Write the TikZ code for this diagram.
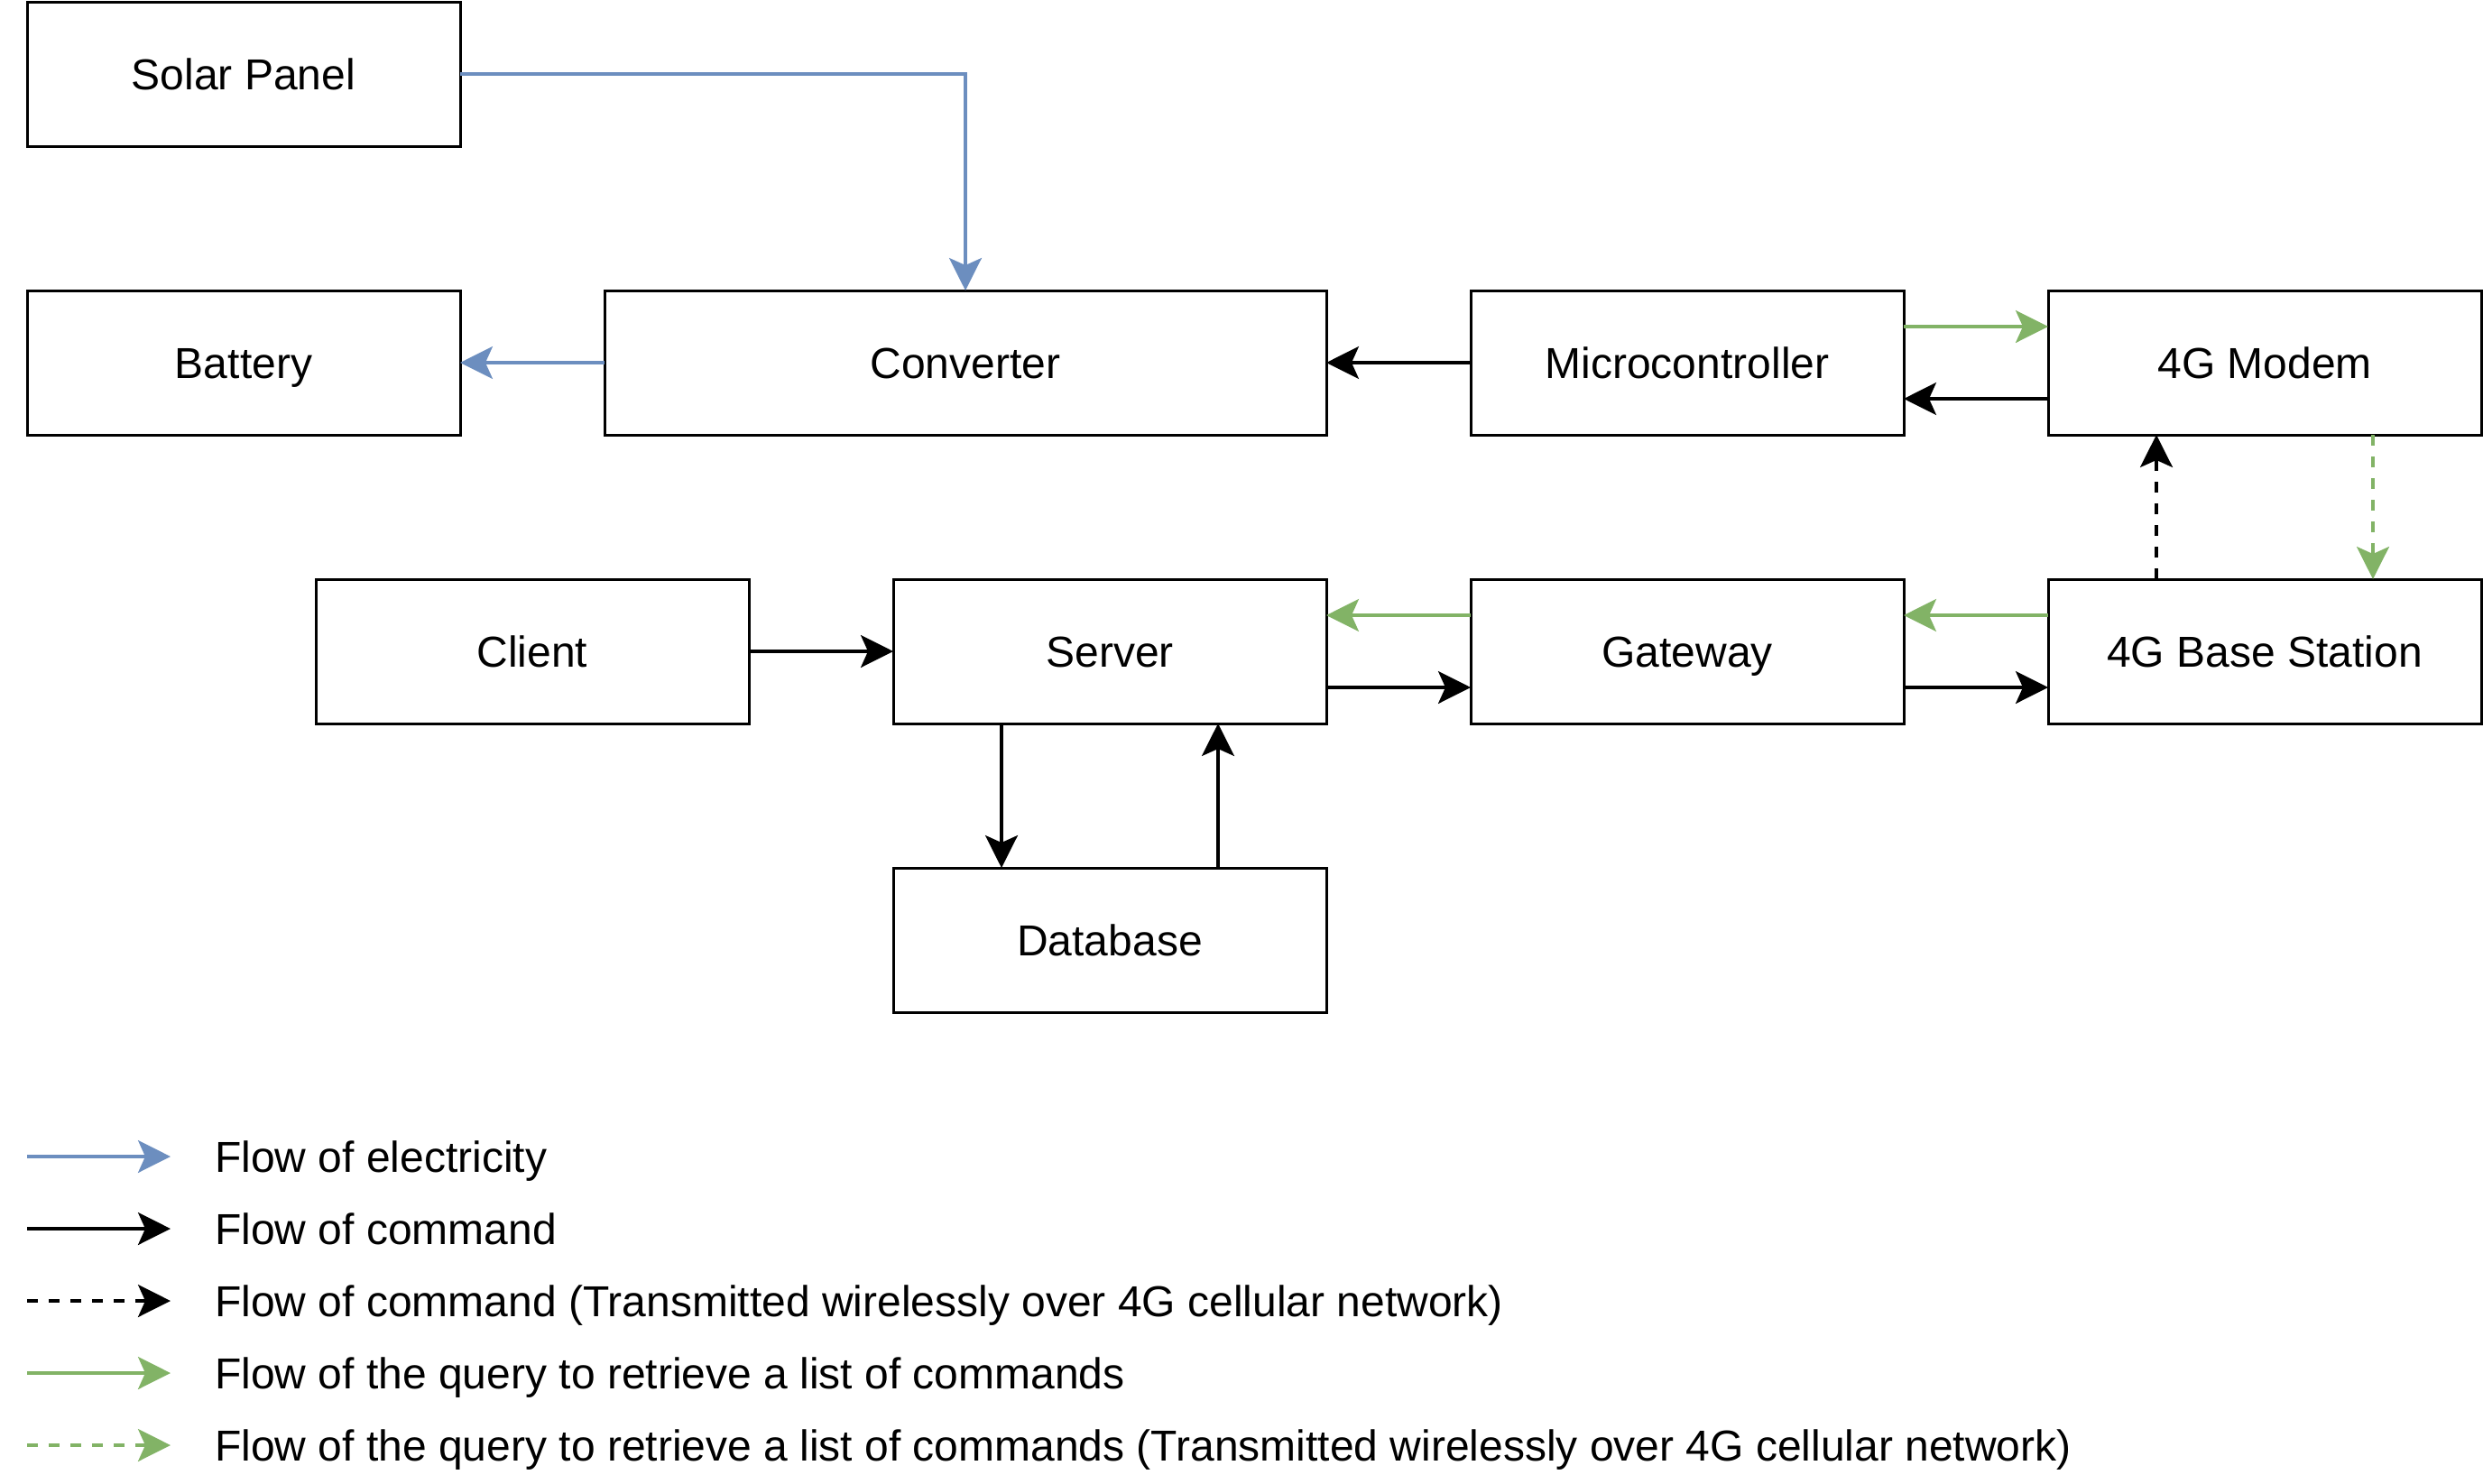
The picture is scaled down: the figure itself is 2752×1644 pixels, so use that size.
\documentclass[tikz,border=0pt]{standalone}
\usepackage{fontspec}
\setmainfont{Liberation Sans}
\usetikzlibrary{arrows.meta}
\definecolor{elecblue}{HTML}{6C8EBF}
\definecolor{querygreen}{HTML}{82B366}
\tikzset{
  box/.style={draw=black, line width=3pt, rectangle, inner sep=0pt, outer sep=0pt,
    minimum width=480pt, minimum height=160pt,
    font=\fontsize{48}{58}\selectfont, text height=34.4pt, text depth=0pt},
  legtext/.style={anchor=west, inner sep=0pt,
    font=\fontsize{48}{58}\selectfont, text height=34.4pt, text depth=0pt},
  tip/.style={-{Stealth[length=36pt, width=36pt, inset=8pt]}},
  elec/.style={tip, draw=elecblue, line width=3.2pt},
  cmd/.style={tip, draw=black, line width=3.2pt},
  query/.style={tip, draw=querygreen, line width=3.2pt},
  wireless/.style={dash pattern=on 12pt off 12pt},
}
\begin{document}
\begin{tikzpicture}[x=1pt, y=-1pt]
\useasboundingbox (0,0) rectangle (2752,1644);

% boxes
\node[box] (solar) at (270,82) {Solar Panel};
\node[box] (battery) at (270,402) {Battery};
\node[box, minimum width=800pt] (conv) at (1070,402) {Converter};
\node[box] (micro) at (1870,402) {Microcontroller};
\node[box] (modem) at (2510,402) {4G Modem};
\node[box] (client) at (590,722) {Client};
\node[box] (server) at (1230,722) {Server};
\node[box] (gateway) at (1870,722) {Gateway};
\node[box] (base) at (2510,722) {4G Base Station};
\node[box] (db) at (1230,1042) {Database};

% electricity
\draw[elec] (solar.east) -| (conv.north);
\draw[elec] (conv.west) -- (battery.east);

% commands
\draw[cmd] (micro.west) -- (conv.east);
\draw[cmd] ([yshift=-40pt]modem.west) -- ([yshift=-40pt]micro.east);
\draw[cmd] (client.east) -- (server.west);
\draw[cmd] ([yshift=-40pt]server.east) -- ([yshift=-40pt]gateway.west);
\draw[cmd] ([yshift=-40pt]gateway.east) -- ([yshift=-40pt]base.west);
\draw[cmd] ([xshift=-120pt]server.south) -- ([xshift=-120pt]db.north);
\draw[cmd] ([xshift=120pt]db.north) -- ([xshift=120pt]server.south);
\draw[cmd, wireless] ([xshift=-120pt]base.north) -- ([xshift=-120pt]modem.south);

% queries
\draw[query] ([yshift=40pt]micro.east) -- ([yshift=40pt]modem.west);
\draw[query, wireless] ([xshift=120pt]modem.south) -- ([xshift=120pt]base.north);
\draw[query] ([yshift=40pt]base.west) -- ([yshift=40pt]gateway.east);
\draw[query] ([yshift=40pt]gateway.west) -- ([yshift=40pt]server.east);

% legend
\coordinate (l1a) at (30,1282); \coordinate (l1b) at (189,1282);
\coordinate (l2a) at (30,1362); \coordinate (l2b) at (189,1362);
\coordinate (l3a) at (30,1442); \coordinate (l3b) at (189,1442);
\coordinate (l4a) at (30,1522); \coordinate (l4b) at (189,1522);
\coordinate (l5a) at (30,1602); \coordinate (l5b) at (189,1602);
\draw[elec] (l1a) -- (l1b);
\draw[cmd] (l2a) -- (l2b);
\draw[cmd, wireless] (l3a) -- (l3b);
\draw[query] (l4a) -- (l4b);
\draw[query, wireless] (l5a) -- (l5b);
\node[legtext] (t1) at (238,1282) {Flow of electricity};
\node[legtext] (t2) at (238,1362) {Flow of command};
\node[legtext] (t3) at (238,1442) {Flow of command (Transmitted wirelessly over 4G cellular network)};
\node[legtext] (t4) at (238,1522) {Flow of the query to retrieve a list of commands};
\node[legtext] (t5) at (238,1602) {Flow of the query to retrieve a list of commands (Transmitted wirelessly over 4G cellular network)};
\end{tikzpicture}
\end{document}
